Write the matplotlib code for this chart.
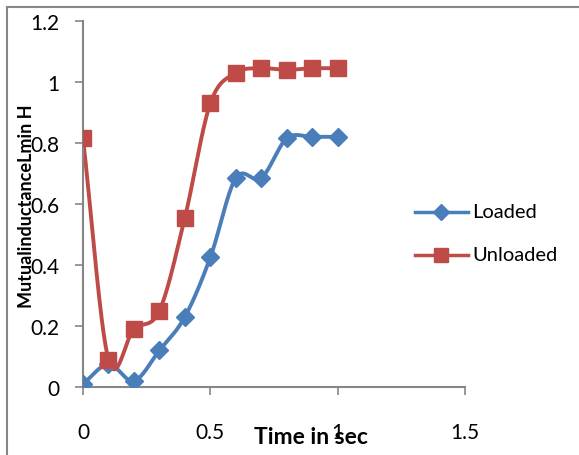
import numpy as np
import matplotlib
matplotlib.use("Agg")
import matplotlib.pyplot as plt
from matplotlib.lines import Line2D

time = [0, 0.1, 0.2, 0.3, 0.4, 0.5, 0.6, 0.7, 0.8, 0.9, 1.0]
loaded = [0.01, 0.075, 0.02, 0.12, 0.23, 0.425, 0.685, 0.685, 0.815, 0.82, 0.82]
unloaded = [0.815, 0.09, 0.19, 0.25, 0.555, 0.93, 1.03, 1.045, 1.04, 1.045, 1.045]

xticks = [0, 0.5, 1, 1.5]
yticks = [0, 0.2, 0.4, 0.6, 0.8, 1.0, 1.2]
xtick_labels = ["0", "0.5", "1", "1.5"]
ytick_labels = ["0", "0.2", "0.4", "0.6", "0.8", "1", "1.2"]

BLUE = "#4A7EBB"
RED = "#BE4B48"
FONT = "Lato"


def smooth(x, y, n=20):
    x = np.asarray(x, float)
    y = np.asarray(y, float)
    px = np.concatenate([[2 * x[0] - x[1]], x, [2 * x[-1] - x[-2]]])
    py = np.concatenate([[2 * y[0] - y[1]], y, [2 * y[-1] - y[-2]]])
    xs, ys = [], []
    t = np.linspace(0, 1, n)
    for i in range(1, len(px) - 2):
        p0, p1, p2, p3 = [np.array([px[j], py[j]]) for j in (i - 1, i, i + 1, i + 2)]
        t2, t3 = t * t, t * t * t
        pts = 0.5 * ((2 * p1)[:, None] + (-p0 + p2)[:, None] * t
                     + (2 * p0 - 5 * p1 + 4 * p2 - p3)[:, None] * t2
                     + (-p0 + 3 * p1 - 3 * p2 + p3)[:, None] * t3)
        xs.extend(pts[0]); ys.extend(pts[1])
    return np.array(xs), np.array(ys)


fig = plt.figure(figsize=(5.79, 4.56), dpi=100)
ax = fig.add_axes([83 / 579, 1 - 388 / 456, 382 / 579, 366 / 456])

for y, c, m, ms, lab in [(loaded, BLUE, "D", 9, "Loaded"), (unloaded, RED, "s", 12, "Unloaded")]:
    sx, sy = smooth(time, y)
    ax.plot(sx, sy, color=c, lw=2.8, zorder=2)
    ax.plot(time, y, ls="none", marker=m, ms=ms, color=c, mec=c, zorder=3)

ax.set_xlim(0, 1.5)
ax.set_ylim(0, 1.2)
ax.set_xticks(xticks)
ax.set_xticklabels(xtick_labels, fontsize=15, family=FONT)
ax.set_yticks(yticks)
ax.set_yticklabels(ytick_labels, fontsize=15, family=FONT)
ax.tick_params(axis="x", direction="out", length=6, width=1.2, color="#868686", pad=19)
ax.tick_params(axis="y", direction="out", length=6, width=1.2, color="#868686", pad=11)
for s in ["top", "right"]:
    ax.spines[s].set_visible(False)
for s in ["left", "bottom"]:
    ax.spines[s].set_color("#868686")
    ax.spines[s].set_linewidth(1.5)

fig.text(311 / 579, 1 - 438 / 456, "Time in sec", ha="center", va="center",
         fontsize=16.5, fontweight="bold", family=FONT)
fig.text(27 / 579, 1 - 206 / 456, "MutualinductanceLmin H", ha="center", va="center",
         rotation=90, fontsize=13, fontweight="bold", family=FONT)

# legend
for yy, c, m, ms, lab in [(213, BLUE, "D", 8, "Loaded"), (256, RED, "s", 10, "Unloaded")]:
    yf = 1 - yy / 456
    fig.add_artist(Line2D([415 / 579, 468 / 579], [yf, yf], color=c, lw=2.5))
    fig.add_artist(Line2D([441 / 579], [yf], color=c, marker=m, ms=ms, ls="none"))
    fig.text(472 / 579, yf, lab, ha="left", va="center", fontsize=14.5, family=FONT)

# chart-area border
fig.add_artist(Line2D([7 / 579, 7 / 579], [1 - 8 / 456, 0], color="#868686", lw=1.5))
fig.add_artist(Line2D([7 / 579, 1], [1 - 8 / 456, 1 - 8 / 456], color="#868686", lw=1.5))

fig.savefig("out.png", dpi=100)
